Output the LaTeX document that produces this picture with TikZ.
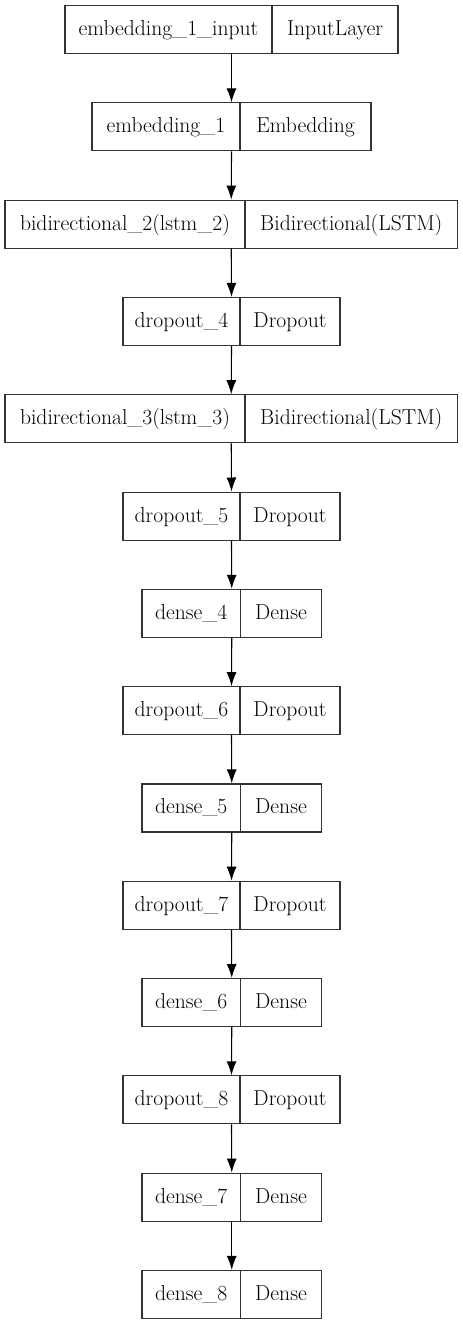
\documentclass[tikz,border=0pt]{standalone}
\usetikzlibrary{arrows.meta}
\newcommand\layerrow[7]{%
  \node[layerbox, minimum width={(#5-#3)*1pt}] (#1) at ({(#3+#5)/2},-#2) {};
  \draw[divider] (#4,-#2) -- (#4,-#2-48);
  \node[lbl] (#1l) at ({(#3+#4)/2},-#2-30.5) {#6};
  \node[lbl] (#1r) at ({(#4+#5)/2},-#2-30.5) {#7};
}
\begin{document}
\begin{tikzpicture}[x=1pt,y=1pt,
  layerbox/.style={draw=black!80, line width=1.1pt, minimum height=48pt, inner sep=0pt, anchor=north},
  divider/.style={draw=black!80, line width=1.1pt},
  lbl/.style={font=\fontsize{21.6}{26}\selectfont, inner sep=0pt, anchor=base},
  conn/.style={line width=1.1pt, -{Latex[length=14pt,width=10pt]}}]
\useasboundingbox[fill=white] (0,0) rectangle (463,-1325);
\layerrow{b0}{5}{65}{272}{398}{embedding\_1\_input}{InputLayer}
\layerrow{b1}{102.3}{92}{240}{371}{embedding\_1}{Embedding}
\layerrow{b2}{199.6}{5}{245}{457.5}{bidirectional\_2(lstm\_2)}{Bidirectional(LSTM)}
\layerrow{b3}{296.9}{123}{240}{340}{dropout\_4}{Dropout}
\layerrow{b4}{394.2}{5}{245}{457.5}{bidirectional\_3(lstm\_3)}{Bidirectional(LSTM)}
\layerrow{b5}{491.5}{123}{240}{340}{dropout\_5}{Dropout}
\layerrow{b6}{588.8}{142}{240.5}{321.5}{dense\_4}{Dense}
\layerrow{b7}{686.1}{123}{240}{340}{dropout\_6}{Dropout}
\layerrow{b8}{783.4}{142}{240.5}{321.5}{dense\_5}{Dense}
\layerrow{b9}{880.7}{123}{240}{340}{dropout\_7}{Dropout}
\layerrow{b10}{978}{142}{240.5}{321.5}{dense\_6}{Dense}
\layerrow{b11}{1075.3}{123}{240}{340}{dropout\_8}{Dropout}
\layerrow{b12}{1172.6}{142}{240.5}{321.5}{dense\_7}{Dense}
\layerrow{b13}{1269.9}{142}{240.5}{321.5}{dense\_8}{Dense}
\foreach \a/\b in {b0/b1,b1/b2,b2/b3,b3/b4,b4/b5,b5/b6,b6/b7,b7/b8,b8/b9,b9/b10,b10/b11,b11/b12,b12/b13}
  \draw[conn] (\a.south) -- (\b.north);
\end{tikzpicture}
\end{document}
